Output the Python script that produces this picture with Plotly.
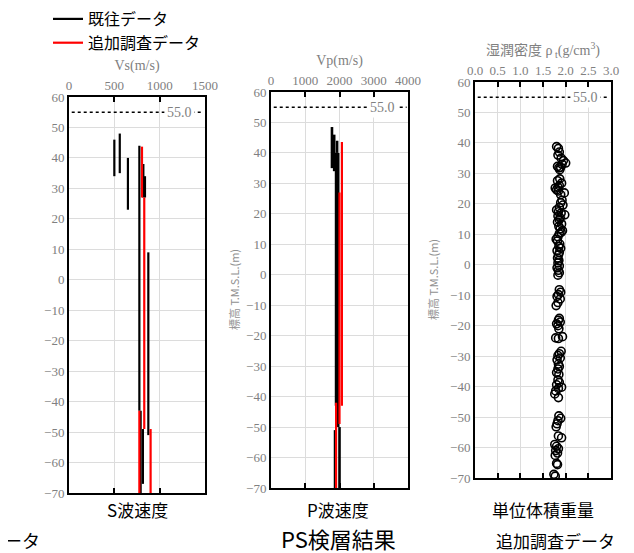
import plotly.graph_objects as go

# ---------------- data ----------------
# S-wave velocity profiles (vertical step segments): velocity, top elev, bottom elev
vs_old_v   = [500, 560, 650, 776, 820, 838, 875, 790, 815]
vs_old_top = [46, 48, 40, 44, 38, 34, 9, -43, -49]
vs_old_bot = [34, 35, 23, -43, 27, 27, -51, -70, -67]

vs_new_v   = [805, 830, 776, 900]
vs_new_top = [43.7, 27, -43, -49]
vs_new_bot = [27, -49, -70, -70]

# P-wave velocity profiles
vp_old_v   = [1780, 1845, 1930, 1900, 1960, 2000, 1870]
vp_old_top = [48.5, 46, 44, 40, 40, -50, -51]
vp_old_bot = [35, 34, 40, -43, -50, -70, -70]

vp_new_v   = [2070, 2000, 1900]
vp_new_top = [43.6, 27, -42]
vp_new_bot = [-43, -49, -70]

# Wet density (additional survey)
rho_elev = [38.8, 38.2, 37.0, 36.0, 35.0, 34.2, 33.4, 33.0, 32.3, 31.8, 31.2, 32.0,
            28.2, 27.6, 26.8, 26.0, 25.2, 24.6, 24.2, 23.6, 23.0, 25.5,
            21.2, 20.4, 19.6, 18.8, 18.0, 17.4, 17.0, 16.4, 16.0, 15.4, 14.8, 14.0,
            13.4, 12.6, 11.8, 11.2, 10.6, 10.2,
            9.2, 8.4, 7.8, 6.8, 6.0, 5.4, 4.6, 4.0, 3.2, 2.2, 1.4, 0.6, -0.4, -1.0,
            -1.8, -2.6, -3.4,
            -8.2, -9.0, -9.8, -10.4, -11.2, -12.4, -13.4,
            -17.6, -18.2, -18.8, -19.4, -20.0, -21.0, -24.0, -24.2, -23.6,
            -28.4, -29.2, -29.8, -30.6, -31.2, -32.6, -33.4, -34.2, -35.4, -36.0,
            -37.8, -38.6, -39.4, -40.2, -40.6, -41.4, -42.4, -43.6,
            -49.6, -50.4, -51.2, -52.2, -53.2, -56.2, -56.8,
            -59.0, -59.6, -60.4, -61.0, -61.8, -62.6, -65.2, -65.6, -68.8, -69.4]
rho_val = [1.80, 1.84, 1.86, 1.83, 1.90, 1.95, 2.00, 1.92, 1.82, 1.85, 1.87, 1.89,
           1.87, 1.82, 1.91, 1.86, 1.77, 1.80, 1.84, 1.97, 1.89, 1.83,
           1.92, 1.89, 1.94, 1.86, 1.80, 1.84, 1.90, 1.98, 1.83, 1.88, 1.86, 1.82,
           1.91, 1.85, 1.88, 1.93, 1.90, 1.86,
           1.83, 1.79, 1.82, 1.87, 1.85, 1.89, 1.81, 1.86, 1.84, 1.82, 1.85, 1.83, 1.86, 1.81,
           1.84, 1.86, 1.83,
           1.86, 1.89, 1.84, 1.81, 1.88, 1.83, 1.79,
           1.86, 1.84, 1.88, 1.80, 1.83, 1.85, 1.78, 1.84, 1.93,
           1.90, 1.86, 1.83, 1.88, 1.81, 1.84, 1.86, 1.83, 1.80, 1.85,
           1.83, 1.86, 1.80, 1.91, 1.84, 1.78, 1.76, 1.84,
           1.85, 1.89, 1.83, 1.81, 1.79, 1.84, 1.91,
           1.76, 1.80, 1.84, 1.78, 1.82, 1.77, 1.80, 1.82, 1.74, 1.77]

ref_level = 55.0
y_ticks = list(range(-70, 61, 10))

# ---------------- helpers ----------------
def segs(v, top, bot):
    xs, ys = [], []
    for a, t, b in zip(v, top, bot):
        xs += [a, a, None]
        ys += [t, b, None]
    return xs, ys

fig = go.Figure()

BLACK = "#000000"
RED = "#ff0000"

x, y = segs(vs_old_v, vs_old_top, vs_old_bot)
fig.add_trace(go.Scatter(x=x, y=y, mode="lines", line=dict(color=BLACK, width=2.2),
                         name="既往データ", xaxis="x", yaxis="y", showlegend=True))
x, y = segs(vs_new_v, vs_new_top, vs_new_bot)
fig.add_trace(go.Scatter(x=x, y=y, mode="lines", line=dict(color=RED, width=2.2),
                         name="追加調査データ", xaxis="x", yaxis="y", showlegend=True))
x, y = segs(vp_old_v, vp_old_top, vp_old_bot)
fig.add_trace(go.Scatter(x=x, y=y, mode="lines", line=dict(color=BLACK, width=2.6),
                         name="既往データ", xaxis="x2", yaxis="y2", showlegend=False))
x, y = segs(vp_new_v, vp_new_top, vp_new_bot)
fig.add_trace(go.Scatter(x=x, y=y, mode="lines", line=dict(color=RED, width=2.2),
                         name="追加調査データ", xaxis="x2", yaxis="y2", showlegend=False))
fig.add_trace(go.Scatter(x=rho_val, y=rho_elev, mode="markers",
                         marker=dict(symbol="circle-open", size=8, color=BLACK,
                                     line=dict(width=1.6, color=BLACK)),
                         name="追加調査データ", xaxis="x3", yaxis="y3", showlegend=False))

W, H = 634, 553
OFF = 8  # page body margin offset
def px_x(p):
    return (p - OFF) / W
def px_y(p):
    return 1 - (p - OFF) / H

panels = [
    dict(x0=69, x1=205, y0=97, y1=493, rng=[0, 1500], dt=500, title="Vs(m/s)"),
    dict(x0=271, x1=408, y0=92, y1=488, rng=[0, 4000], dt=1000, title="Vp(m/s)"),
    dict(x0=475, x1=611, y0=82, y1=478, rng=[0, 3.0], dt=0.5,
         title="湿潤密度 ρ<sub> t</sub>(g/cm<sup>3</sup>)"),
]

TICKFONT = dict(family="Liberation Serif, DejaVu Serif, Noto Sans CJK JP", size=13, color="#808080")
GRID = "#dcdcdc"

layout = dict(width=W, height=H, margin=dict(l=0, r=0, t=0, b=0, autoexpand=False),
              paper_bgcolor="white", plot_bgcolor="white",
              showlegend=True,
              legend=dict(x=px_x(48), y=px_y(2), xanchor="left", yanchor="top",
                          font=dict(family="Noto Sans CJK JP", size=16, color="#000"),
                          bgcolor="rgba(0,0,0,0)", tracegroupgap=0, itemwidth=30))

for i, p in enumerate(panels):
    sfx = "" if i == 0 else str(i + 1)
    fmt = ".1f" if p["dt"] < 1 else "d"
    layout["xaxis" + sfx] = dict(
        domain=[px_x(p["x0"]), px_x(p["x1"])], range=p["rng"], dtick=p["dt"], tick0=0,
        anchor="y" + sfx, side="top", showgrid=True, gridcolor=GRID, gridwidth=1,
        showline=True, linecolor=BLACK, linewidth=2, mirror="ticks",
        ticks="inside", ticklen=5, tickcolor=BLACK, tickwidth=1.5,
        tickfont=TICKFONT, tickformat=fmt, zeroline=False, automargin=False,
        title=dict(text=p["title"], font=dict(family="Liberation Serif, Noto Sans CJK JP",
                                             size=14, color="#808080"), standoff=4))
    layout["yaxis" + sfx] = dict(
        domain=[px_y(p["y1"]), px_y(p["y0"])], range=[-70, 60], tickvals=y_ticks,
        anchor="x" + sfx, showgrid=True, gridcolor=GRID, gridwidth=1,
        showline=True, linecolor=BLACK, linewidth=2, mirror=True, ticks="",
        tickfont=TICKFONT, zeroline=False, automargin=False)

fig.update_layout(**layout)

# 55.0 reference dotted line in each panel
for i in range(3):
    sfx = "" if i == 0 else str(i + 1)
    fig.add_shape(type="line", xref=f"x{sfx} domain", yref=f"y{sfx}",
                  x0=0.02, x1=0.99, y0=ref_level, y1=ref_level,
                  line=dict(color=BLACK, width=1.5, dash="dot"))
    fig.add_annotation(xref=f"x{sfx} domain", yref=f"y{sfx}", x=0.93, y=ref_level,
                       xanchor="right", yanchor="middle", text=f"{ref_level:.1f}",
                       showarrow=False, bgcolor="white", borderpad=2,
                       font=dict(family="Liberation Serif", size=14, color="#808080"))

# y-axis titles (panels 2 and 3)
for xc, ycen in [(234, (92 + 488) / 2), (433, (82 + 478) / 2)]:
    fig.add_annotation(xref="paper", yref="paper", x=px_x(xc), y=px_y(ycen),
                       text="標高 T.M.S.L.(m)", textangle=-90, showarrow=False,
                       xanchor="center", yanchor="middle",
                       font=dict(family="Noto Sans CJK JP", size=11, color="#909090"))

SANS = "Noto Sans CJK JP"
labels = [
    ("S波速度", 137, 509, 17, "center"),
    ("P波速度", 338, 509, 17, "center"),
    ("単位体積重量", 543, 509, 17, "center"),
    ("PS検層結果", 338, 538, 22, "center"),
    ("追加調査データ", 555, 540, 17, "center"),
    ("既往データ", 42, 540, 18, "right"),
]
for txt, xc, yc, sz, anc in labels:
    fig.add_annotation(xref="paper", yref="paper", x=px_x(xc), y=px_y(yc),
                       text=txt, showarrow=False, xanchor=anc, yanchor="middle",
                       font=dict(family=SANS, size=sz, color="#000"))

fig.write_html("out.html")
